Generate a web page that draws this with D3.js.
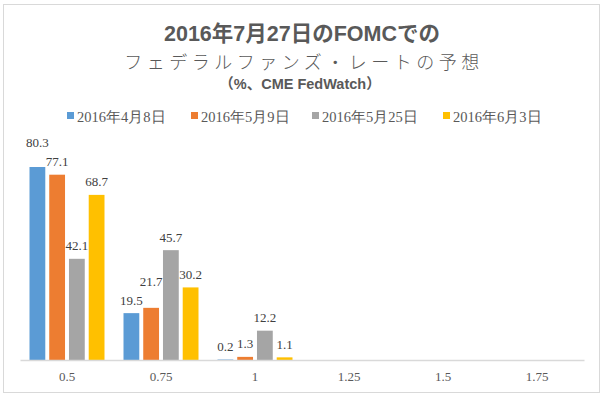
<!doctype html>
<head>
  <script src="https://cdnjs.cloudflare.com/ajax/libs/d3/7.8.5/d3.min.js"></script>
  <style>
    body { margin: 0; background: #fff; }
    svg { display: block; }
  </style>
</head>
<body>
  <svg width="604" height="397"></svg>
  <script type="text/javascript">
    var categories = ["0.5", "0.75", "1", "1.25", "1.5", "1.75"]
    var seriesNames = ["2016年4月8日", "2016年5月9日", "2016年5月25日", "2016年6月3日"]
    var apr8 = [80.3, 19.5, 0.2, null, null, null]
    var may9 = [77.1, 21.7, 1.3, null, null, null]
    var may25 = [42.1, 45.7, 12.2, null, null, null]
    var jun3 = [68.7, 30.2, 1.1, null, null, null]
    var colors = ["#5b9bd5", "#ed7d31", "#a5a5a5", "#ffc000"]

    var series = [apr8, may9, may25, jun3]
    var serif = "'Liberation Serif', 'DejaVu Serif', serif"
    var sans = "'Liberation Sans', Arial, 'Noto Sans CJK JP', sans-serif"

    var svg = d3.select("svg")

    svg.append("rect")
      .attr("x", 3.5).attr("y", 4.5).attr("width", 596).attr("height", 388)
      .style("fill", "#fff").style("stroke", "#d9d9d9")

    // titles
    svg.append("text").attr("x", 302).attr("y", 41)
      .attr("text-anchor", "middle")
      .style("font-family", sans).style("font-weight", "bold").style("font-size", "21.5px")
      .style("fill", "#595959")
      .text("2016年7月27日のFOMCでの")
    svg.append("text").attr("x", 304).attr("y", 69)
      .attr("text-anchor", "middle")
      .style("font-family", "'Noto Sans CJK JP', sans-serif").style("font-weight", "300").style("font-size", "18px")
      .style("letter-spacing", "4.5px")
      .style("fill", "#595959")
      .text("フェデラルファンズ・レートの予想")
    svg.append("text").attr("x", 300).attr("y", 89)
      .attr("text-anchor", "middle")
      .style("font-family", sans).style("font-weight", "bold").style("font-size", "14.5px")
      .style("fill", "#595959")
      .text("（%、CME FedWatch）")

    // legend
    var legendX = [67, 191, 312, 443]
    var legend = svg.selectAll("g.legend").data(seriesNames).enter().append("g")
      .attr("class", "legend")
      .attr("transform", (d, i) => "translate(" + legendX[i] + ",116)")
    legend.append("rect").attr("x", 0).attr("y", -4).attr("width", 7).attr("height", 7)
      .style("fill", (d, i) => colors[i])
    legend.append("text").attr("x", 10).attr("y", 5.5)
      .style("font-family", serif).style("font-size", "14.5px").style("fill", "#595959")
      .text(d => d)

    // scales
    var left = 20, right = 584, baseline = 360
    var x0 = d3.scaleBand().domain(categories).range([left, right]).paddingInner(0).paddingOuter(0)
    var x1 = d3.scaleBand().domain(d3.range(series.length)).range([0, 75]).paddingInner(0.2).paddingOuter(0)
    var y = d3.scaleLinear().domain([0, 80.3]).range([baseline, 167])

    var groupOffset = (x0.bandwidth() - 75) / 2

    var bars = []
    series.forEach((s, si) => s.forEach((v, ci) => {
      if (v != null) bars.push({ s: si, c: categories[ci], v: v })
    }))

    svg.selectAll("rect.bar").data(bars).enter().append("rect")
      .attr("class", "bar")
      .attr("x", d => x0(d.c) + groupOffset + x1(d.s))
      .attr("y", d => y(d.v))
      .attr("width", x1.bandwidth())
      .attr("height", d => baseline - y(d.v))
      .style("fill", d => colors[d.s])

    var labels = svg.selectAll("text.val").data(bars).enter().append("text")
      .attr("class", "val")
      .attr("x", d => x0(d.c) + groupOffset + x1(d.s) + x1.bandwidth() / 2)
      .attr("text-anchor", "middle")
      .style("font-family", serif).style("font-size", "13px").style("fill", "#404040")
      .text(d => d.v)

    // lift the taller of two neighbouring labels when they would collide
    labels.each(function (d) { d.w = this.getComputedTextLength(); d.ly = y(d.v) - 8.5 })
    categories.forEach(c => {
      var g = bars.filter(d => d.c == c)
      for (var i = 1; i < g.length; i++) {
        var a = g[i - 1], b = g[i]
        var overlapX = (a.w + b.w) / 2 + 1 > x1.step()
        if (overlapX && Math.abs(a.ly - b.ly) < 14) {
          if (a.v > b.v) a.ly = b.ly - 19
          else b.ly = a.ly - 19
        }
      }
    })
    labels.attr("y", d => d.ly)

    // axis
    var axis = svg.append("g").attr("transform", "translate(0," + baseline + ")")
      .call(d3.axisBottom(x0).tickSize(0).tickPadding(12))
    axis.select(".domain").style("stroke", "#d9d9d9").style("stroke-width", 1.5)
    axis.selectAll("text").style("font-family", serif).style("font-size", "13px").style("fill", "#595959")
  </script>
</body>
</html>
